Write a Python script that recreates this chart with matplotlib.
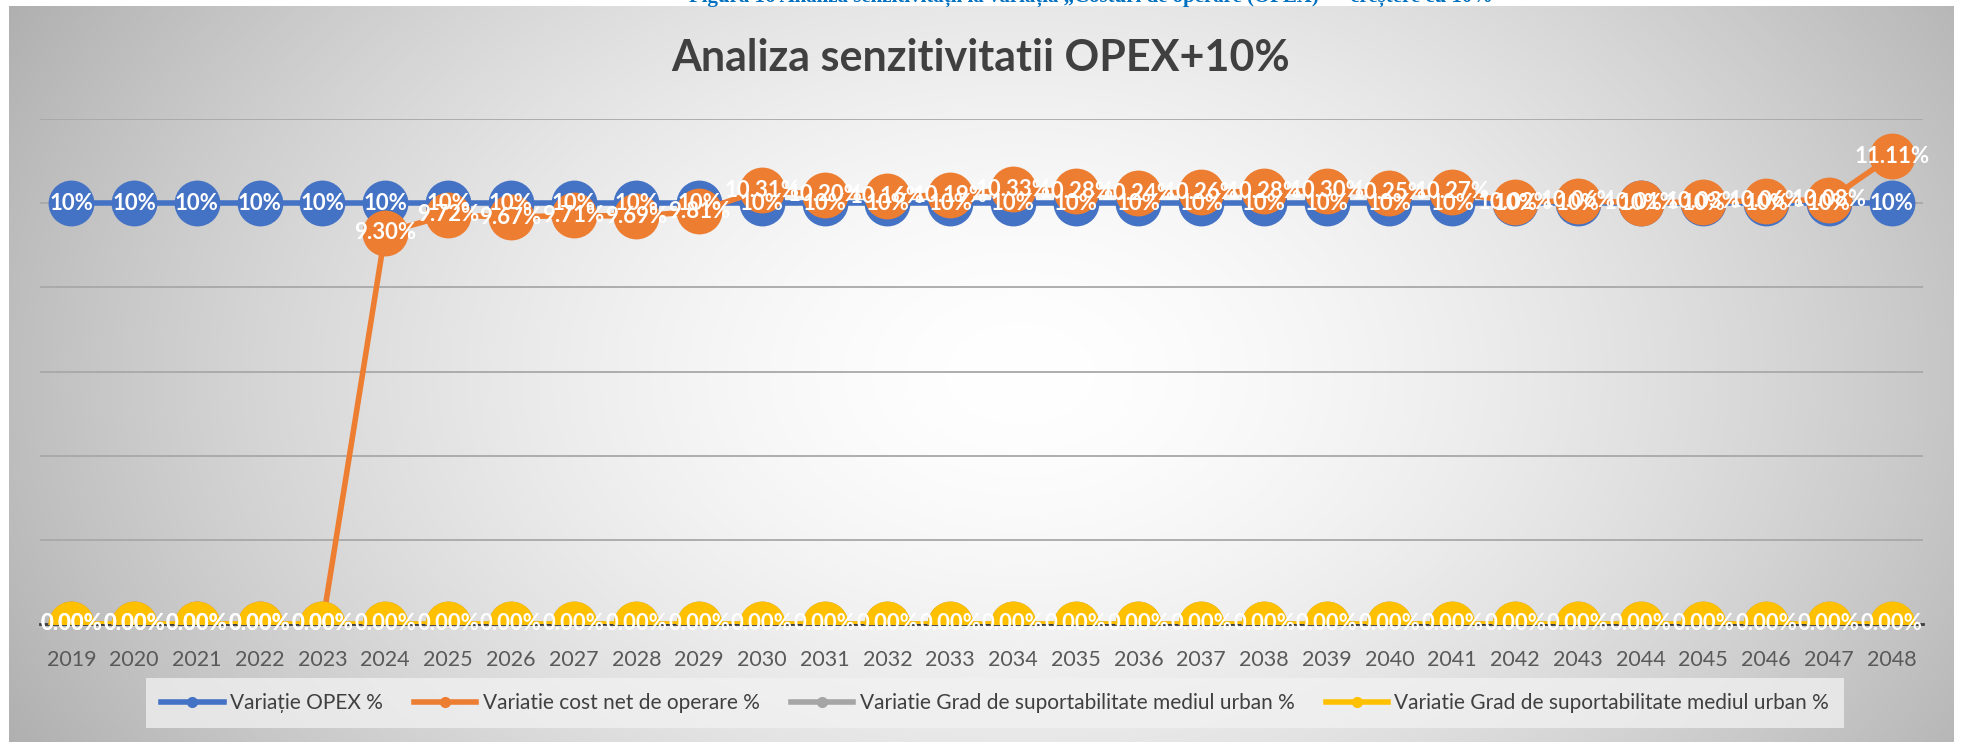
import numpy as np
import matplotlib
matplotlib.use("Agg")
import matplotlib.pyplot as plt
from matplotlib.lines import Line2D

years = [str(y) for y in range(2019, 2049)]

# Variatie OPEX %
opex = [0.10] * 30
# Variatie cost net de operare %
cost_net = [0.0, 0.0, 0.0, 0.0, 0.0,
            0.0930, 0.0972, 0.0967, 0.0971, 0.0969, 0.0981,
            0.1031, 0.1020, 0.1016, 0.1019, 0.1033, 0.1028, 0.1024,
            0.1026, 0.1028, 0.1030, 0.1025, 0.1027,
            0.1002, 0.1006, 0.1001, 0.1003, 0.1006, 0.1008, 0.1111]
# Variatie Grad de suportabilitate mediul urban % (two series, both zero)
grad_1 = [0.0] * 30
grad_2 = [0.0] * 30

series_names = ["Variație OPEX %", "Variatie cost net de operare %",
                "Variatie Grad de suportabilitate mediul urban %",
                "Variatie Grad de suportabilitate mediul urban %"]
colors = ["#4472C4", "#ED7D31", "#A5A5A5", "#FFC000"]

W, H = 1961, 742
fig = plt.figure(figsize=(W / 100, H / 100), dpi=100)
fig.patch.set_facecolor("white")

# gradient background of the chart area
bg = fig.add_axes([9 / W, 0, (1954 - 9) / W, 1 - 6 / H], zorder=-10)
u = np.linspace(-1, 1, 600)[None, :]
v = np.linspace(-1, 1, 300)[:, None]
t = np.sqrt((u - 0.04) ** 2 + 0.3 * v ** 2)
shade = 1 - 0.24 * np.clip(t, 0, 1.3) ** 1.6
bg.imshow(np.dstack([shade] * 3), aspect="auto", extent=[0, 1, 0, 1])
bg.axis("off")

ax = fig.add_axes([40 / W, 1 - 624 / H, (1923 - 40) / W, (624 - 119) / H])
ax.set_facecolor("none")
x = np.arange(len(years))

all_series = [opex, cost_net, grad_1, grad_2]
for i, (vals, c) in enumerate(zip(all_series, colors)):
    ax.plot(x, vals, color=c, lw=4, marker="o", markersize=33,
            markeredgewidth=0, zorder=3 + i, solid_capstyle="round")

# data labels on top of all markers
lab_kw = dict(ha="center", va="center", color="white", fontsize=16,
              fontweight="bold", family="Lato", zorder=20)
for xi, val in zip(x, opex):
    ax.text(xi, val, f"{val:.0%}", **lab_kw)
for xi, val in zip(x, cost_net):
    ax.text(xi, val, f"{val * 100:.2f}%", **lab_kw)
for xi, val in zip(x, grad_2):
    ax.text(xi, val, f"{val * 100:.2f}%", **lab_kw)

ax.set_xlim(-0.5, len(years) - 0.5)
ax.set_ylim(0, 0.12)
ax.set_yticks([0.02, 0.04, 0.06, 0.08, 0.10, 0.12])
ax.yaxis.grid(True, color="#a8a8a8", lw=1.3)
ax.set_axisbelow(True)
ax.tick_params(axis="y", left=False, labelleft=False)
ax.set_xticks(x)
ax.set_xticklabels(years, fontsize=15.5, color="#595959", family="Lato")
ax.tick_params(axis="x", length=0, pad=19)
for s in ["top", "left", "right"]:
    ax.spines[s].set_visible(False)
ax.spines["bottom"].set_color("#404040")
ax.spines["bottom"].set_linewidth(2)
ax.spines["bottom"].set_zorder(1)

fig.text(0.5, 1 - 58 / H, "Analiza senzitivitatii OPEX+10%", ha="center",
         va="center", fontsize=31, fontweight="bold", color="#404040",
         family="Lato")

# caption of the document, cut by the top edge
fig.text(1091 / W, 1 - 2 / H,
         "Figura 16 Analiza senzitivității la variația „Costuri de operare (OPEX)” – creștere cu 10%",
         ha="center", va="baseline", fontsize=15, fontweight="bold",
         color="#0070C0", family="Liberation Serif")

handles = [Line2D([0], [0], color=c, lw=4, marker="o", markersize=7)
           for c in colors]
leg = fig.legend(handles, series_names, loc="center", ncol=4,
                 bbox_to_anchor=(995 / W, 1 - 703 / H), frameon=True,
                 handlelength=3.0, columnspacing=1.5,
                 handletextpad=0.3, borderpad=0.7, fancybox=False,
                 prop={"family": "Lato", "size": 15})
leg.get_frame().set_facecolor("#f2f2f2")
leg.get_frame().set_alpha(0.75)
leg.get_frame().set_linewidth(0)
for txt in leg.get_texts():
    txt.set_color("#404040")

fig.savefig("out.png", dpi=100)
